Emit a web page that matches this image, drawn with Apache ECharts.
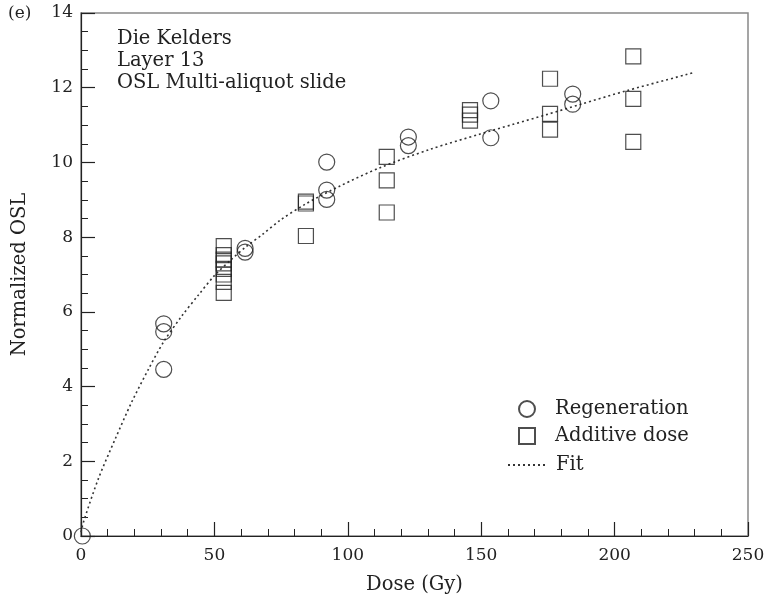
<!DOCTYPE html>
<html>
<head>
<meta charset="utf-8">
<script src="https://cdn.jsdelivr.net/npm/echarts@6/dist/echarts.min.js"></script>
<style>
  html, body { margin: 0; padding: 0; background: #fff; }
  #chart { width: 768px; height: 600px; }
</style>
</head>
<body>
<div id="chart"></div>
<script>
// Multi-aliquot OSL growth curve, Die Kelders layer 13
var panelLabel = '(e)';
var siteLines = ['Die Kelders', 'Layer 13', 'OSL Multi-aliquot slide'];
var xTitle = 'Dose (Gy)';
var yTitle = 'Normalized OSL';
var seriesNames = ['Regeneration', 'Additive dose', 'Fit'];

// Regeneration points [dose (Gy), normalized OSL]
var regeneration = [
  [0.5, 0],
  [31, 5.68], [31, 5.47], [31, 4.46],
  [61.5, 7.7], [61.5, 7.6],
  [92.1, 10.01], [92.1, 9.26], [92.1, 9.01],
  [122.7, 10.68], [122.7, 10.45],
  [153.6, 11.65], [153.6, 10.66],
  [184.3, 11.83], [184.3, 11.56]
];

// Additive-dose points [dose (Gy), normalized OSL]
var additive = [
  [53.5, 7.76], [53.5, 7.52], [53.5, 7.4], [53.5, 7.3], [53.5, 7.15],
  [53.5, 7.0], [53.5, 6.8], [53.5, 6.51],
  [84.3, 8.95], [84.3, 8.9], [84.3, 8.03],
  [114.6, 10.15], [114.6, 9.52], [114.6, 8.66],
  [145.8, 11.4], [145.8, 11.28], [145.8, 11.12],
  [175.8, 12.24], [175.8, 11.3], [175.8, 10.88],
  [207, 12.84], [207, 11.7], [207, 10.55]
];

// Fitted growth curve, traced along its length
var fitCurve = [
  [0, 0.1], [1, 0.39], [6.6, 1.55], [12.9, 2.61], [19.1, 3.6], [25.4, 4.48],
  [31, 5.2], [37.9, 5.9], [44, 6.45], [50, 6.97], [56, 7.38], [62, 7.75],
  [68, 8.07], [74.6, 8.45], [84, 8.88], [97.1, 9.37], [112.1, 9.86],
  [130.8, 10.35], [149.6, 10.76], [162, 11.02], [174.5, 11.28], [187, 11.55],
  [204.5, 11.92], [230, 12.41]
];

var xRange = [0, 250];
var yRange = [0, 14];

var FONT = 'DejaVu Serif';
var INK = '#222';
var TEXT_SIZE = 19.5;
var TICK_SIZE = 17;

var chart = echarts.init(document.getElementById('chart'), null, { renderer: 'canvas' });

var markerStyle = {
  color: 'rgba(0,0,0,0)',
  borderColor: INK,
  borderWidth: 1.2
};

chart.setOption({
  animation: false,
  backgroundColor: '#fff',
  textStyle: { fontFamily: FONT, color: INK },
  grid: {
    left: 81, right: 20, top: 13, bottom: 62,
    show: true,
    borderColor: '#888',
    borderWidth: 1.5,
    backgroundColor: 'rgba(0,0,0,0)'
  },
  title: {
    text: siteLines.join('\n'),
    left: 117,
    top: 28,
    padding: 0,
    textStyle: { fontFamily: FONT, fontSize: TEXT_SIZE, fontWeight: 'normal', color: INK, lineHeight: 22 }
  },
  graphic: [{
    type: 'text',
    left: 8,
    top: 5,
    style: { text: panelLabel, font: '17px "DejaVu Serif"', fill: INK }
  }],
  legend: [{
    data: [seriesNames[0], seriesNames[1]],
    orient: 'vertical',
    left: 518,
    top: 399,
    padding: 0,
    itemWidth: 16,
    itemHeight: 16,
    itemGap: 7,
    textStyle: { fontFamily: FONT, fontSize: TEXT_SIZE, color: INK, padding: [0, 0, 0, 15] }
  }, {
    data: [seriesNames[2]],
    orient: 'vertical',
    left: 507,
    top: 455,
    padding: 0,
    itemWidth: 40,
    itemHeight: 16,
    itemStyle: { opacity: 0 },
    textStyle: { fontFamily: FONT, fontSize: TEXT_SIZE, color: INK, padding: [0, 0, 0, 3] }
  }],
  xAxis: {
    type: 'value',
    min: xRange[0], max: xRange[1], interval: 50,
    name: xTitle,
    nameLocation: 'middle',
    nameGap: 39,
    nameTextStyle: { fontFamily: FONT, fontSize: TEXT_SIZE, color: INK },
    axisLine: { show: true, onZero: false, lineStyle: { color: INK, width: 1.2 } },
    axisTick: { show: true, inside: true, length: 14, lineStyle: { color: INK, width: 1.2 } },
    minorTick: { show: true, splitNumber: 5, length: 7, lineStyle: { color: INK, width: 1 } },
    axisLabel: { margin: 11, fontFamily: FONT, fontSize: TICK_SIZE, color: INK },
    splitLine: { show: false }
  },
  yAxis: {
    type: 'value',
    min: yRange[0], max: yRange[1], interval: 2,
    name: yTitle,
    nameLocation: 'middle',
    nameGap: 51,
    nameTextStyle: { fontFamily: FONT, fontSize: TEXT_SIZE, color: INK },
    axisLine: { show: true, onZero: false, lineStyle: { color: INK, width: 1.2 } },
    axisTick: { show: true, inside: true, length: 14, lineStyle: { color: INK, width: 1.2 } },
    minorTick: { show: true, splitNumber: 4, length: 7, lineStyle: { color: INK, width: 1 } },
    axisLabel: { margin: 8, fontFamily: FONT, fontSize: TICK_SIZE, color: INK },
    splitLine: { show: false }
  },
  series: [{
    name: seriesNames[2],
    type: 'line',
    data: fitCurve,
    symbol: 'none',
    smooth: 0.3,
    lineStyle: { color: '#333', width: 1.6, type: [2, 3] },
    itemStyle: { color: '#333' },
    z: 1
  }, {
    name: seriesNames[0],
    type: 'scatter',
    data: regeneration,
    symbol: 'circle',
    symbolSize: 16,
    clip: false,
    itemStyle: markerStyle,
    z: 3
  }, {
    name: seriesNames[1],
    type: 'scatter',
    data: additive,
    symbol: 'rect',
    symbolSize: 15,
    clip: false,
    itemStyle: markerStyle,
    z: 2
  }]
});
</script>
</body>
</html>
